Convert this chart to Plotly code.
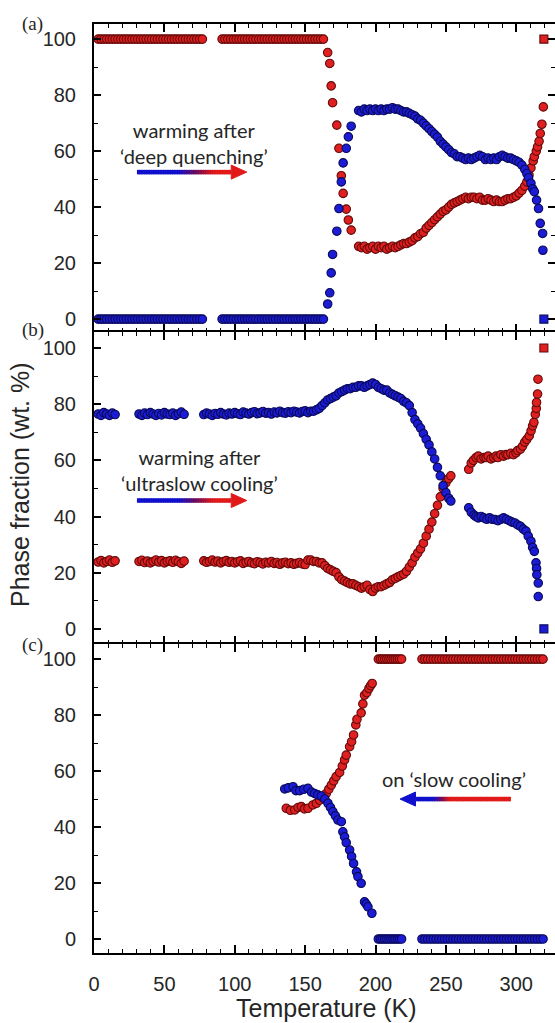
import plotly.graph_objects as go

# ------------------------------------------------------------------ data
# Panel (a): warming after 'deep quenching'
A_FLAT_T = [3, 5, 7, 9, 11, 13, 15, 17, 19, 21, 23, 25, 27, 29, 31, 33, 35, 37, 39, 41,
            43, 45, 47, 49, 51, 53, 55, 57, 59, 61, 63, 65, 67, 69, 71, 73, 75, 77,
            91, 93, 95, 97, 99, 101, 103, 105, 107, 109, 111, 113, 115, 117, 119, 121,
            123, 125, 127, 129, 131, 133, 135, 137, 139, 141, 143, 145, 147, 149, 151,
            153, 155, 157, 159, 161, 163]
A_FLAT_RED = [100, 100, 100, 100, 100, 100, 100, 100, 100, 100, 100, 100, 100, 100, 100,
              100, 100, 100, 100, 100, 100, 100, 100, 100, 100, 100, 100, 100, 100, 100,
              100, 100, 100, 100, 100, 100, 100, 100, 100, 100, 100, 100, 100, 100, 100,
              100, 100, 100, 100, 100, 100, 100, 100, 100, 100, 100, 100, 100, 100, 100,
              100, 100, 100, 100, 100, 100, 100, 100, 100, 100, 100, 100, 100, 100, 100]
A_FLAT_BLUE = [0, 0, 0, 0, 0, 0, 0, 0, 0, 0, 0, 0, 0, 0, 0,
               0, 0, 0, 0, 0, 0, 0, 0, 0, 0, 0, 0, 0, 0, 0,
               0, 0, 0, 0, 0, 0, 0, 0, 0, 0, 0, 0, 0, 0, 0,
               0, 0, 0, 0, 0, 0, 0, 0, 0, 0, 0, 0, 0, 0, 0,
               0, 0, 0, 0, 0, 0, 0, 0, 0, 0, 0, 0, 0, 0, 0]
A_TR_T = [166, 167.5, 168.5, 169.5, 172.5, 174, 175.7, 177, 179.2, 180.7, 182.7]
A_TR_RED = [95.2, 91.3, 83.3, 77.3, 69.3, 61, 51.2, 44.9, 39.3, 35.4, 31.8]
A_TR_BLUE = [5.4, 9.4, 16.5, 23.1, 31.4, 39.5, 49, 55.8, 61, 65.1, 68.9]
A_BR_T = [188, 190, 192, 194, 196, 198, 200, 202, 204, 206, 208, 210, 212, 214, 216,
          218, 220, 222, 224, 226, 228, 230, 232, 234, 236, 238, 240, 242, 244, 246,
          248, 250, 252, 254, 256, 258, 260, 262, 264, 266, 268, 270, 272, 274, 276,
          278, 280, 282, 284, 286, 288, 290, 292, 294, 296, 298, 300, 302, 304, 306]
A_BR_RED = [26, 25.5, 26, 25, 25.5, 26, 25, 26, 25.5, 26, 25, 25.5, 26, 25.5, 26,
            26.5, 27, 27, 27.5, 28, 29, 29.5, 30.5, 31, 32.5, 33.5, 34.5, 35.5, 36.5, 37.5,
            38.5, 39, 40, 41, 41.5, 42, 42.5, 43, 43.5, 43, 43.5, 43.5, 43, 43.5, 42.5,
            42.5, 43, 42.5, 42, 42.5, 42, 42, 42.5, 43, 43, 43.5, 44, 45, 46, 47.5]
A_BR_BLUE = [74.5, 74, 75, 74.5, 75, 74.5, 75, 74.5, 75, 74.5, 75, 75, 75.5, 75, 75,
             74.5, 74, 74, 73.5, 73, 72.5, 71.5, 71, 70, 69, 68, 67, 66, 65, 63.5,
             62.5, 61.5, 60.5, 59.5, 59, 58, 58, 57.5, 57, 57.5, 57, 57.5, 58, 58.5, 58,
             57, 57.5, 57, 57.5, 57, 58, 58.5, 58, 57.5, 57.5, 57, 56.5, 56, 55, 53.5]
A_RED_TAIL_T = [307.5, 309, 310.4, 312, 312.8, 314.2, 315.1, 316.2, 317, 318.2, 319.2]
A_RED_TAIL = [49, 51.5, 54, 56.5, 58, 60, 61.5, 63.5, 66.3, 69.6, 75.8]
A_BLUE_TAIL_T = [307.5, 308.7, 310.4, 311.7, 312.8, 314.4, 315.8, 317, 318.7, 318.9]
A_BLUE_TAIL = [52, 50.5, 48.5, 46.5, 45.5, 42.5, 39.5, 34.2, 30.6, 24.6]

# Panel (b): warming after 'ultraslow cooling'
B_FLAT_T = [3, 5, 7, 9, 11, 13, 15,
            32, 34, 36, 38, 40, 42, 44, 46, 48, 50, 52, 54, 56, 58, 60, 62, 64,
            78, 80, 82, 84, 86, 88, 90, 92, 94, 96, 98, 100, 102, 104, 106, 108, 110,
            112, 114, 116, 118, 120, 122, 124, 126, 128, 130, 132, 134, 136, 138, 140,
            142, 144, 146, 148, 150]
B_FLAT_BLUE = [76.5, 76, 77, 76.5, 76, 76.8, 76.3,
               76.5, 76, 76.8, 76.3, 77, 76.5, 76, 76.7, 76.2, 77, 76.5, 76.3, 76.8, 76,
               76.6, 77.2, 76.4,
               76.3, 76.8, 76.5, 76, 76.7, 76.4, 77, 76.5, 76.2, 76.8, 76.5, 77, 76.6,
               76.3, 77.2, 76.8, 76.5, 77, 77.3, 76.6, 76.9, 77.4, 76.8, 77, 76.5, 77.2,
               76.9, 77.5, 77, 76.8, 77.3, 77, 77.5, 77.2, 76.9, 77.4, 77.6]
B_FLAT_RED = [23.8, 24.3, 23.5, 24, 24.5, 23.7, 24.2,
              24, 24.4, 23.6, 24.1, 23.5, 24, 24.5, 23.8, 24.3, 23.5, 24, 24.2, 23.7, 24.4,
              23.9, 23.3, 24.1,
              24.2, 23.7, 24, 24.5, 23.8, 24.1, 23.5, 24, 24.3, 23.7, 24, 23.5, 23.9,
              24.2, 23.3, 23.7, 24, 23.5, 23.2, 23.9, 23.6, 23.1, 23.7, 23.5, 24, 23.3,
              23.6, 23.0, 23.5, 23.7, 23.2, 23.5, 23.0, 23.3, 23.6, 23.1, 22.9]
B_MID_T = [152, 154, 156, 158, 160, 162, 164, 166, 168, 170, 172, 174, 176, 178, 180,
           182, 184, 186, 188, 190, 192, 194, 196, 198, 200, 202, 204, 206, 208, 210,
           212, 214, 216, 218, 220, 222, 224, 226, 228, 230, 232, 234, 236, 238, 240,
           242, 244, 246, 248, 250, 252, 253.5]
B_MID_BLUE = [77, 77.5, 77.5, 78, 78.5, 79.5, 80.5, 81.5, 82, 82.5, 83, 84, 84.5, 85, 85.5,
              85.5, 86, 86, 86.5, 86.5, 86, 86.5, 87, 87.5, 87, 86, 85.5, 85, 85, 84,
              83.5, 83, 82.5, 82, 81, 80.5, 79.5, 77, 74.5, 73, 71.5, 69.5, 67.5, 65.5, 63,
              60.5, 57.5, 54.5, 51, 48.5, 46.5, 45.5]
B_MID_RED = [24.5, 24.5, 24, 24, 23.5, 23.5, 22.5, 21.5, 21, 20.5, 20, 18.5, 17.5, 17, 16.5,
             16, 16, 15.5, 15, 14.5, 15, 15.5, 14, 13.3, 14.5, 15, 15, 15.5, 16, 16.5,
             17.5, 18, 18.5, 19, 19.5, 20.5, 22, 23.5, 25.5, 27, 28.5, 30.5, 33, 35.5, 38,
             41, 44, 47, 50, 52, 53.5, 54.5]
B_BLUE_TAIL_T = [266.2, 268, 270, 271.4, 273, 275, 277, 279, 281, 283, 285, 287, 289, 291,
                 293, 295, 297, 299, 301, 303, 305, 306.9, 308.5, 310.4, 311.6, 312.8, 314,
                 314.4, 314.6, 315.6, 315.6]
B_BLUE_TAIL = [43.1, 41.5, 40.5, 40, 39.5, 40, 39.5, 39, 39.5, 39, 38.9, 38.5, 39, 39.5,
               39, 38.5, 38, 37.7, 37, 36.5, 35.5, 34.8, 33, 31.2, 29, 27.6, 23.5,
               21.5, 19.3, 16.3, 11.5]
B_RED_TAIL_T = [266.2, 268, 269.5, 271.4, 273, 275, 277, 278.5, 280, 282, 284, 285.6, 287,
                289, 291, 292.7, 294, 296, 298, 299.8, 301, 303, 304.5, 306, 307.5, 309.2,
                310.5, 311.6, 312.5, 313.5, 314.2, 314.4, 315.1, 315.4]
B_RED_TAIL = [56.8, 59, 60, 61, 61.5, 60.5, 61, 61, 61.5, 60.5, 61, 61.5, 61, 62, 61.5, 62.1,
              62, 62.5, 62, 62.7, 63.5, 64, 65.1, 66.5, 67.5, 68.7, 70.5, 72.3, 73.5, 76.4,
              78.5, 80.6, 83.6, 88.9]

# reference squares (a) and (b)
SQ_T = [319.6]
SQ_RED = [100]
SQ_BLUE = [0]

# Panel (c): on 'slow cooling'
C_BLUE_T = [135.5, 138, 141.4, 143.5, 146.1, 149, 152, 154.5, 156.7, 159, 161.5, 164, 166.2,
            168, 169.7, 171.5, 173.3, 175.7, 176.8, 178, 179.2, 181.6, 183, 184.4, 186.5,
            187.5, 189.8, 192.2, 193.4, 194.6, 197.4]
C_BLUE_V = [53.6, 54, 54.4, 53, 53, 53.5, 53.8, 52.5, 52, 51.5, 51.1, 50, 48.5, 47, 45.5,
            44, 42.5, 41.9, 38.3, 36.5, 34.4, 31.8, 29.5, 27, 24, 22.3, 19.9, 13.3, 12.5,
            11.5, 9.2]
C_RED_T = [136.6, 139.5, 142.6, 145, 147.3, 149.5, 152, 155.5, 158, 160.3, 162.5, 165, 166.8,
           168.6, 170.3, 172, 174.5, 176.4, 178, 179.2, 181.6, 183, 184.4, 186, 186.8, 189.8,
           191, 192.2, 193.8, 195.3, 196.5, 197.6]
C_RED_V = [46.7, 46, 46.1, 47, 47.3, 46.5, 46.7, 47.9, 48.5, 49.6, 50.5, 52, 53.5, 55, 56.5,
           58, 59.5, 61.8, 64, 65.7, 68.7, 70.5, 72.9, 76.5, 78.5, 80.8, 84, 87.1, 88, 89.5,
           90.5, 91.3]
C_FLAT_T = [202, 203.5, 205, 206.5, 208, 209.5, 211, 212.5, 214, 215.5, 217, 218.5,
            233, 235, 237, 239, 241, 243, 245, 247, 249, 251, 253, 255, 257, 259, 261, 263,
            265, 267, 269, 271, 273, 275, 277, 279, 281, 283, 285, 287, 289, 291, 293, 295,
            297, 299, 301, 303, 305, 307, 309, 311, 313, 315, 317, 319]
C_FLAT_RED = [100, 100, 100, 100, 100, 100, 100, 100, 100, 100, 100, 100, 100, 100,
              100, 100, 100, 100, 100, 100, 100, 100, 100, 100, 100, 100, 100, 100,
              100, 100, 100, 100, 100, 100, 100, 100, 100, 100, 100, 100, 100, 100,
              100, 100, 100, 100, 100, 100, 100, 100, 100, 100, 100, 100, 100, 100]
C_FLAT_BLUE = [0, 0, 0, 0, 0, 0, 0, 0, 0, 0, 0, 0, 0, 0,
               0, 0, 0, 0, 0, 0, 0, 0, 0, 0, 0, 0, 0, 0,
               0, 0, 0, 0, 0, 0, 0, 0, 0, 0, 0, 0, 0, 0,
               0, 0, 0, 0, 0, 0, 0, 0, 0, 0, 0, 0, 0, 0]

X_TICKS = [0, 50, 100, 150, 200, 250, 300]
Y_TICKS = [0, 20, 40, 60, 80, 100]

# ------------------------------------------------------------------ style
RED_FILL, RED_LINE = "rgb(224,32,32)", "rgb(100,10,10)"
BLUE_FILL, BLUE_LINE = "rgb(28,28,214)", "rgb(10,10,90)"
TXT = "#262626"
SANS = "Liberation Sans, Arial, sans-serif"
NOTE_FONT = "Lato, Open Sans, sans-serif"

W, H = 555, 1023
L, R, T, B = 94, 0, 24, 70
PH = H - T - B  # plot height in px


def py2paper(py):
    return (H - B - py) / PH


def px2paper(px):
    return (px - L) / (W - L - R)


fig = go.Figure()


def pts(x, y, xa, ya, fill, line, symbol="circle", size=8.5):
    fig.add_trace(go.Scatter(
        x=x, y=y, xaxis=xa, yaxis=ya, mode="markers", showlegend=False,
        hoverinfo="skip",
        marker=dict(symbol=symbol, size=size, color=fill, line=dict(color=line, width=1.1))))


# panel a
pts(A_FLAT_T + A_TR_T + A_BR_T + A_RED_TAIL_T, A_FLAT_RED + A_TR_RED + A_BR_RED + A_RED_TAIL,
    "x", "y", RED_FILL, RED_LINE)
pts(A_FLAT_T + A_TR_T + A_BR_T + A_BLUE_TAIL_T, A_FLAT_BLUE + A_TR_BLUE + A_BR_BLUE + A_BLUE_TAIL,
    "x", "y", BLUE_FILL, BLUE_LINE)
pts(SQ_T, SQ_RED, "x", "y", RED_FILL, RED_LINE, "square", 8)
pts(SQ_T, SQ_BLUE, "x", "y", BLUE_FILL, BLUE_LINE, "square", 8)
# panel b
pts(B_FLAT_T + B_MID_T + B_RED_TAIL_T, B_FLAT_RED + B_MID_RED + B_RED_TAIL,
    "x2", "y2", RED_FILL, RED_LINE)
pts(B_FLAT_T + B_MID_T + B_BLUE_TAIL_T, B_FLAT_BLUE + B_MID_BLUE + B_BLUE_TAIL,
    "x2", "y2", BLUE_FILL, BLUE_LINE)
pts(SQ_T, SQ_RED, "x2", "y2", RED_FILL, RED_LINE, "square", 8)
pts(SQ_T, SQ_BLUE, "x2", "y2", BLUE_FILL, BLUE_LINE, "square", 8)
# panel c
pts(C_RED_T + C_FLAT_T, C_RED_V + C_FLAT_RED, "x3", "y3", RED_FILL, RED_LINE)
pts(C_BLUE_T + C_FLAT_T, C_BLUE_V + C_FLAT_BLUE, "x3", "y3", BLUE_FILL, BLUE_LINE)

# empty traces so the right-hand tick-only axes are drawn
for ya in ("y4", "y5", "y6"):
    fig.add_trace(go.Scatter(x=[None], y=[None], xaxis="x", yaxis=ya, mode="markers",
                             showlegend=False, hoverinfo="skip"))

# ------------------------------------------------------------------ axes
XR = [0, 327.5]
domains = {"a": [py2paper(332), 1.0], "b": [py2paper(644), py2paper(332)], "c": [0.0, py2paper(644)]}
yranges = {"a": [-4.6, 105.4], "b": [-5.4, 105.7], "c": [-5.0, 105.4]}
TICKFONT = dict(family=SANS, size=20, color=TXT)


def xax(anchor, labels):
    return dict(range=XR, anchor=anchor, showline=True, linecolor="black", linewidth=2,
                mirror="ticks", ticks="inside", ticklen=8, tickwidth=1.6, tickcolor="black",
                tickvals=X_TICKS, showticklabels=labels,
                tickfont=TICKFONT, ticklabelstandoff=12,
                minor=dict(ticks="inside", ticklen=4, tickwidth=1.4, tickcolor="black", dtick=10, tick0=0),
                showgrid=False, zeroline=False, fixedrange=True)


def yax(anchor, key):
    return dict(range=yranges[key], domain=domains[key], anchor=anchor, showline=True,
                linecolor="black", linewidth=2, mirror=False, ticks="inside", ticklen=7,
                tickwidth=1.6, tickcolor="black", tickvals=Y_TICKS,
                tickfont=TICKFONT, ticklabelstandoff=12,
                minor=dict(ticks="inside", ticklen=4, tickwidth=1.4, tickcolor="black", dtick=10, tick0=0),
                showgrid=False, zeroline=False, fixedrange=True)


def yax_right(over, key):
    return dict(range=yranges[key], domain=domains[key], overlaying=over, side="right",
                anchor="x", showline=False, ticks="inside", ticklen=7, tickwidth=1.6,
                tickcolor="black", tickvals=Y_TICKS, showticklabels=False,
                minor=dict(ticks="inside", ticklen=4, tickwidth=1.4, tickcolor="black", dtick=10, tick0=0),
                showgrid=False, zeroline=False, fixedrange=True)


fig.update_layout(
    width=W, height=H, margin=dict(l=L, r=R, t=T, b=B),
    paper_bgcolor="white", plot_bgcolor="white",
    xaxis=xax("y", False), xaxis2=xax("y2", False), xaxis3=xax("y3", True),
    yaxis=yax("x", "a"), yaxis2=yax("x2", "b"), yaxis3=yax("x3", "c"),
    yaxis4=yax_right("y", "a"), yaxis5=yax_right("y2", "b"), yaxis6=yax_right("y3", "c"),
)

# ------------------------------------------------------------------ decorations
BLUE_C = (15, 15, 205)
PURP_C = (110, 10, 90)
RED_C = (225, 25, 25)


def mix(c1, c2, f):
    return tuple(int(round(a + (b - a) * f)) for a, b in zip(c1, c2))


def grad_color(f, f_blue, f_red):
    # f: 0 = blue end, 1 = red end
    if f <= f_blue:
        c = BLUE_C
    elif f >= f_red:
        c = RED_C
    else:
        g = (f - f_blue) / (f_red - f_blue)
        c = mix(BLUE_C, PURP_C, g / 0.5) if g < 0.5 else mix(PURP_C, RED_C, (g - 0.5) / 0.5)
    return "rgb(%d,%d,%d)" % c


shapes = []


def grad_arrow(xref, yref, x_blue, x_red, y, f_blue, f_red, head_at_red, head_len, head_half):
    n = 40
    if head_at_red:
        sx0, sx1 = x_blue, x_red - head_len
    else:
        sx0, sx1 = x_blue + head_len, x_red
    for i in range(n):
        a = sx0 + (sx1 - sx0) * i / n
        b = sx0 + (sx1 - sx0) * (i + 1.3) / n
        b = min(b, sx1)
        fm = ((a + b) / 2 - x_blue) / (x_red - x_blue)
        shapes.append(dict(type="line", xref=xref, yref=yref, x0=a, x1=b, y0=y, y1=y,
                           line=dict(color=grad_color(fm, f_blue, f_red), width=4.5)))
    if head_at_red:
        tip, base, col = x_red, x_red - head_len, "rgb(%d,%d,%d)" % RED_C
    else:
        tip, base, col = x_blue, x_blue + head_len, "rgb(%d,%d,%d)" % BLUE_C
    shapes.append(dict(type="path", xref=xref, yref=yref,
                       path=f"M {base},{y + head_half} L {tip},{y} L {base},{y - head_half} Z",
                       fillcolor=col, line=dict(color=col, width=1)))


grad_arrow("x", "y", 30.5, 108.5, 52.5, 0.38, 0.70, True, 11, 2.5)
grad_arrow("x2", "y2", 30.5, 108.5, 45.7, 0.38, 0.70, True, 11, 2.5)
grad_arrow("x3", "y3", 217.4, 296.2, 50.0, 0.30, 0.45, False, 11, 2.5)
fig.update_layout(shapes=shapes)

NOTE = dict(family=NOTE_FONT, size=20, color=TXT)
ann = []
ann.append(dict(xref="x", yref="y", x=71, y=62.9, text="warming after<br>‘deep quenching’",
                showarrow=False, font=NOTE, align="center"))
ann.append(dict(xref="x2", yref="y2", x=75.3, y=56.4, text="warming after<br>‘ultraslow cooling’",
                showarrow=False, font=NOTE, align="center"))
ann.append(dict(xref="x3", yref="y3", x=255.8, y=57.1, text="on ‘slow cooling’",
                showarrow=False, font=NOTE, align="center"))
for lab, pyc in (("(a)", 24), ("(b)", 330), ("(c)", 645)):
    ann.append(dict(xref="paper", yref="paper", x=px2paper(33), y=py2paper(pyc), text=lab,
                    showarrow=False, xanchor="center", yanchor="middle",
                    font=dict(family="Liberation Serif, Times New Roman, serif", size=19, color=TXT)))
ann.append(dict(xref="paper", yref="paper", x=px2paper(20), y=py2paper(485),
                text="Phase fraction (wt. %)", textangle=-90, showarrow=False,
                xanchor="center", yanchor="middle", font=dict(family=SANS, size=25, color=TXT)))
ann.append(dict(xref="paper", yref="paper", x=px2paper(326), y=py2paper(1008),
                text="Temperature (K)", showarrow=False, xanchor="center", yanchor="middle",
                font=dict(family=SANS, size=25, color=TXT)))
fig.update_layout(annotations=ann)

fig.write_html("out.html", config={"displayModeBar": False})
